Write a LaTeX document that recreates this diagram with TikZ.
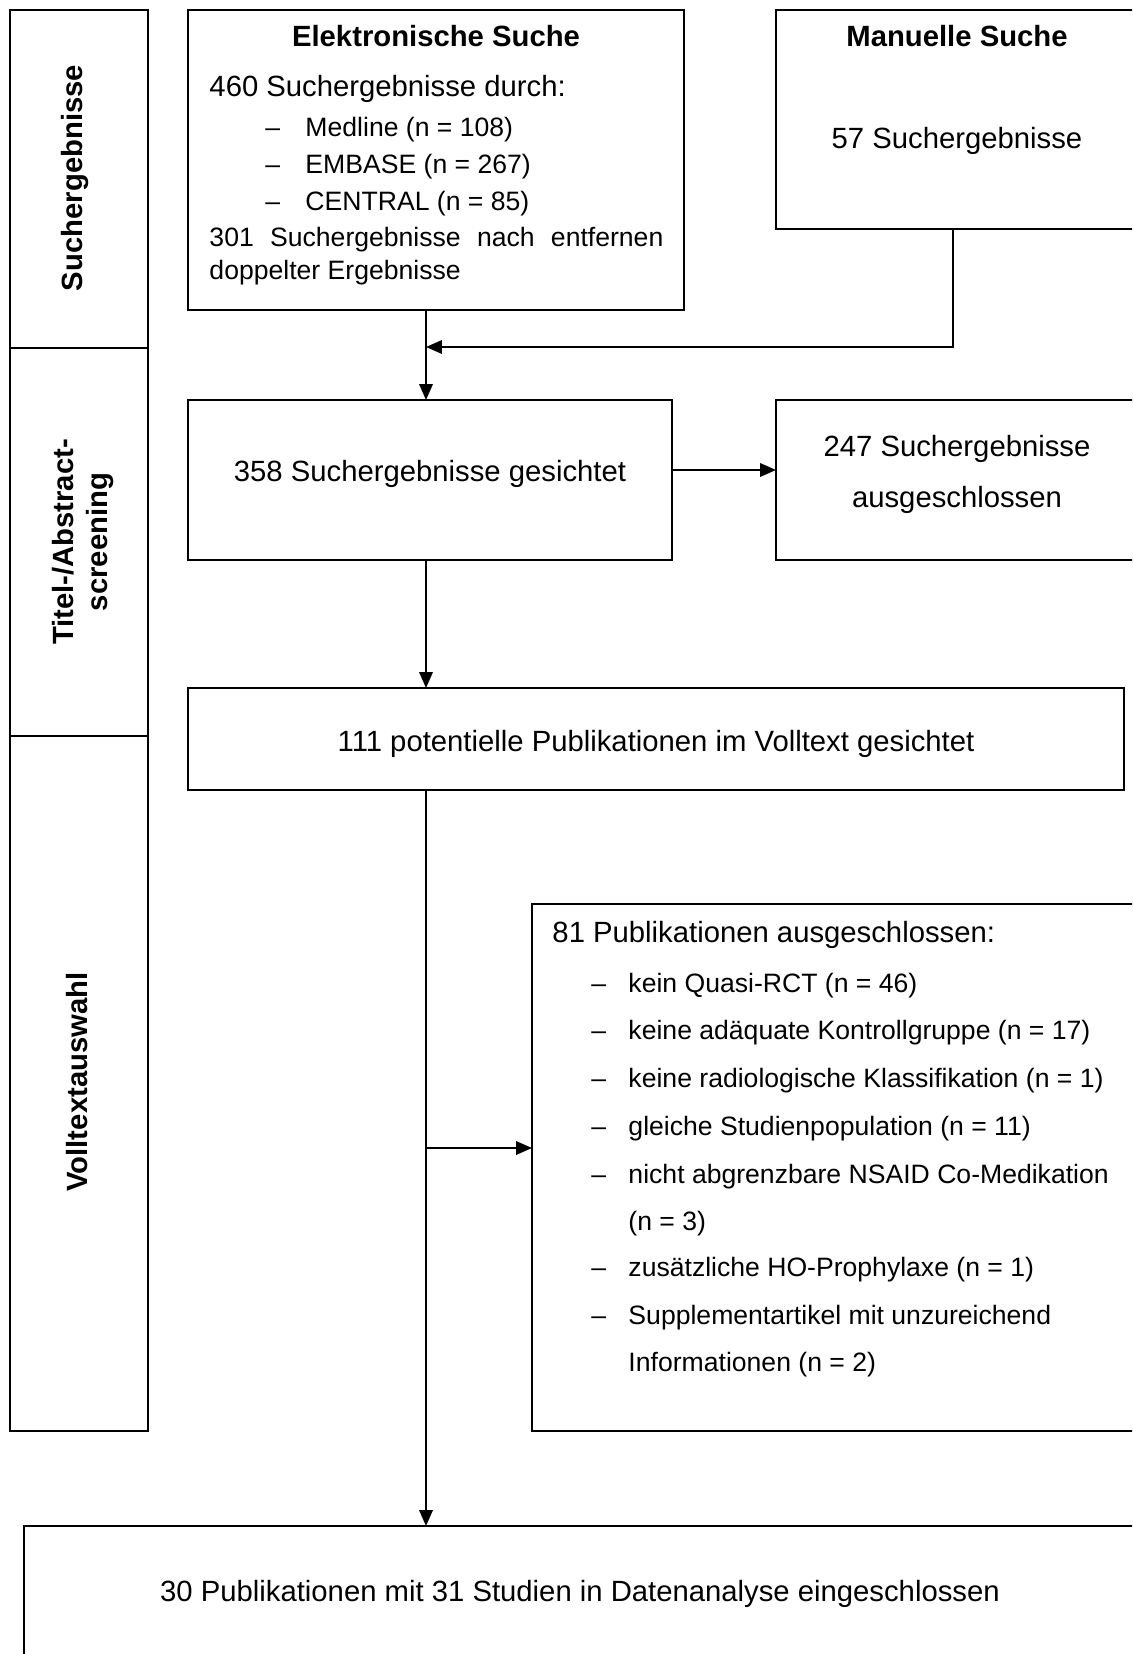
\documentclass[tikz,border=0pt]{standalone}
\usepackage{fontspec}
\setmainfont{Liberation Sans}
\usetikzlibrary{arrows.meta,fit}

\tikzset{
  stepframe/.style={draw, line width=0.8pt, inner sep=0pt, outer sep=0pt},
  flow/.style={line width=0.8pt, -{Triangle[length=6.5pt,width=5.5pt]}},
  txt/.style={inner sep=0pt, font=\fontsize{12}{14}\selectfont},
  bold/.style={inner sep=0pt, font=\fontsize{12}{14}\selectfont\bfseries},
  small/.style={inner sep=0pt, font=\fontsize{10.9}{13}\selectfont},
  phase/.style={bold, rotate=90, anchor=base},
}

\begin{document}
\begin{tikzpicture}[x=0.41pt, y=-0.41pt]
			%%%%% START %%%%%
			\useasboundingbox (0,0) rectangle (1132,1654);
			\clip (0,0) rectangle (1132,1654);
			
			\node[stepframe, fit={(10,10) (148,348)}] (phase1) {};
			\node[stepframe, fit={(10,348) (148,736)}] (phase2) {};
			\node[stepframe, fit={(10,736) (148,1431)}] (phase3) {};
			\node[phase] (phase1txt) at (82,178) {Suchergebnisse};
			\node[phase] (phase2txta) at (73,542) {Titel-/Abstract-};
			\node[phase] (phase2txtb) at (107,542) {screening};
			\node[phase] (phase3txt) at (87,1082) {Volltextauswahl};
			
			\node[stepframe, fit={(188,10) (684,310)}] (elek) {};
			\node[bold, anchor=base] (elektitle) at (436,47) {Elektronische Suche};
			\node[txt, anchor=base west] (elek1) at (209,97) {460 Suchergebnisse durch:};
			\foreach \db/\yy [count=\i] in {Medline (n = 108)/137, EMBASE (n = 267)/174, CENTRAL (n = 85)/211}{
				\node[small, anchor=base west] (elekdash\i) at (265,\yy) {\textendash};
				\node[small, anchor=base west] (elekdb\i) at (305,\yy) {\db};
			}
			\node[small, anchor=base west] (elek2) at (209,247) {\makebox[186.1pt][s]{301 Suchergebnisse nach entfernen}};
			\node[small, anchor=base west] (elek3) at (209,280) {doppelter Ergebnisse};
			
			\node[stepframe, fit={(776,10) (1138,229)}] (manu) {};
			\node[bold, anchor=base] (manutitle) at (957,47) {Manuelle Suche};
			\node[txt, anchor=base] (manutxt) at (957,149) {57 Suchergebnisse};
			
			\node[stepframe, fit={(188,400) (672,560)}] (sicht) {};
			\node[txt, anchor=base] (sichttxt) at (430,481.5) {358 Suchergebnisse gesichtet};
			
			\node[stepframe, fit={(776,400) (1138,560)}] (excl1) {};
			\node[txt, anchor=base] (excl1a) at (957,456.7) {247 Suchergebnisse};
			\node[txt, anchor=base] (excl1b) at (957,507) {ausgeschlossen};
			
			\node[stepframe, fit={(188,688) (1124,790)}] (voll) {};
			\node[txt, anchor=base] (volltxt) at (656,751.7) {111 potentielle Publikationen im Volltext gesichtet};
			
			\node[stepframe, fit={(532,904) (1138,1431)}] (excl2) {};
			\node[txt, anchor=base west] (excl2head) at (552,942.5) {81 Publikationen ausgeschlossen:};
			\foreach \grund/\yy [count=\i] in {kein Quasi-RCT (n = 46)/992.5, keine adäquate Kontrollgruppe (n = 17)/1039, keine radiologische Klassifikation (n = 1)/1087, gleiche Studienpopulation (n = 11)/1135, nicht abgrenzbare NSAID Co-Medikation/1183, zusätzliche HO-Prophylaxe (n = 1)/1276.4, Supplementartikel mit unzureichend/1324.6}{
				\node[small, anchor=base west] (excl2dash\i) at (591,\yy) {\textendash};
				\node[small, anchor=base west] (excl2item\i) at (628,\yy) {\grund};
			}
			\node[small, anchor=base west] (excl2more1) at (628,1230) {(n = 3)};
			\node[small, anchor=base west] (excl2more2) at (628,1371) {Informationen (n = 2)};
			
			\node[stepframe, fit={(24,1526) (1136,1665)}] (incl) {};
			\node[txt, anchor=base] (incltxt) at (580,1601.5) {30 Publikationen mit 31 Studien in Datenanalyse eingeschlossen};
			
			% connectors
			\coordinate (spine) at (426,0);
			\coordinate (manuout) at (953,0);
			\coordinate (merge) at (426,347);
			\coordinate (side) at (0,470);
			\coordinate (branch) at (426,1148);
			
			\draw[flow] (spine |- elek.south) -- (spine |- sicht.north);
			\draw[flow] (manuout |- manu.south) |- (merge);
			\draw[flow] (sicht.east |- side) -- (excl1.west |- side);
			\draw[flow] (spine |- sicht.south) -- (spine |- voll.north);
			\draw[flow] (spine |- voll.south) -- (spine |- incl.north);
			\draw[flow] (branch) -- (branch -| excl2.west);
			
			%%%%% END %%%%%
\end{tikzpicture}
\end{document}
